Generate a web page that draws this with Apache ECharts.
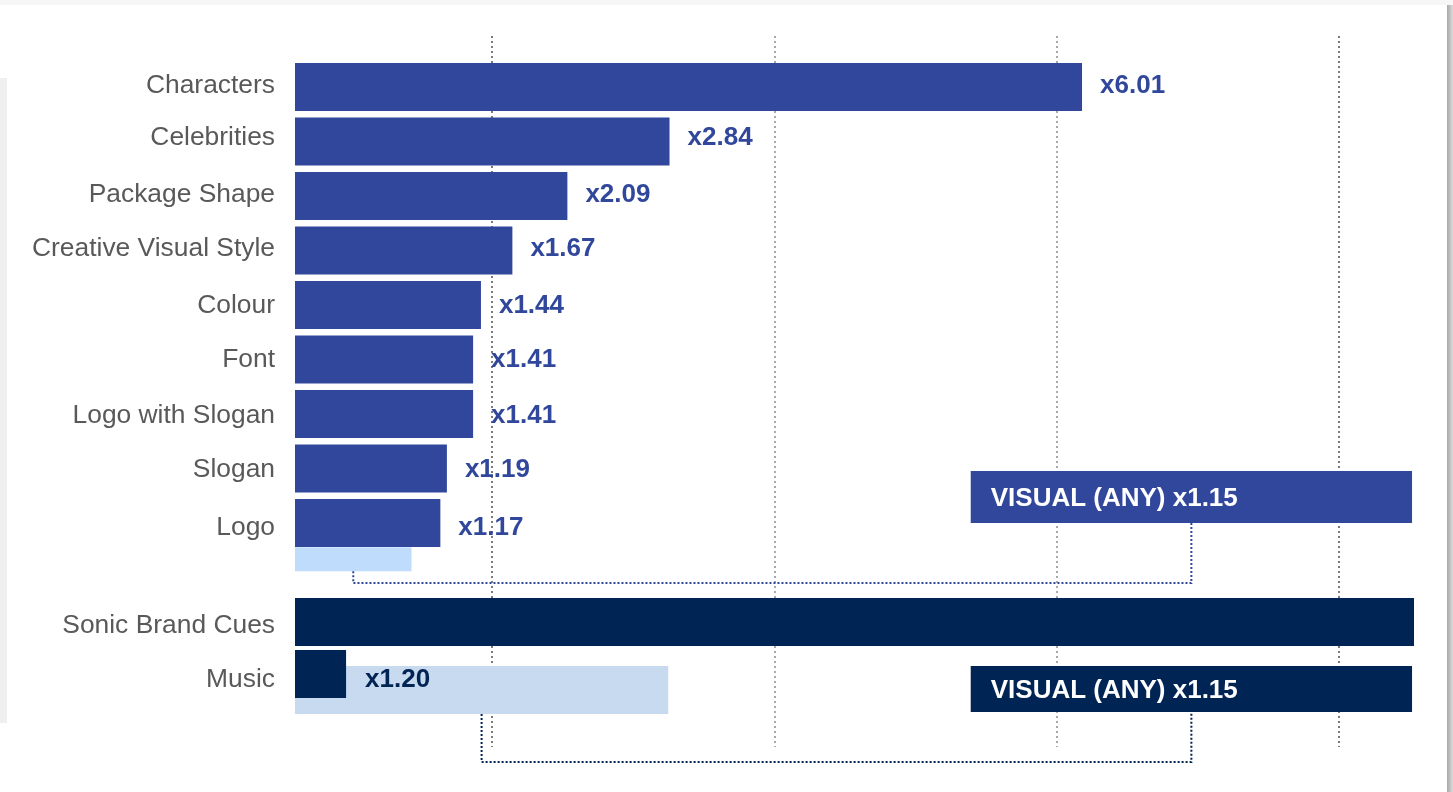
<!DOCTYPE html>
<html><head><meta charset="utf-8">
<script src="https://cdn.jsdelivr.net/npm/echarts/dist/echarts.min.js"></script>
<style>html,body{margin:0;padding:0;background:#fff;overflow:hidden}#chart{width:1453px;height:792px}</style>
</head><body><div id="chart"></div>
<script>
// ---- data ----
const visualCategories = ['Characters','Celebrities','Package Shape','Creative Visual Style','Colour','Font','Logo with Slogan','Slogan','Logo'];
const visualValues = [6.01, 2.86, 2.08, 1.66, 1.42, 1.36, 1.36, 1.16, 1.11];
const visualLabels = ['x6.01','x2.84','x2.09','x1.67','x1.44','x1.41','x1.41','x1.19','x1.17'];
const visualBaseValue = 0.89;          // light bar under "Logo"
const sonicCategories = ['Sonic Brand Cues','Music'];
const sonicValues = [8.545, 0.39];
const sonicLabels = ['', 'x1.20'];
const sonicBaseValue = 2.85;           // light bar under "Music"
const annotationTexts = ['VISUAL (ANY) x1.15', 'VISUAL (ANY) x1.15'];
const annotationRange = [5.16, 8.53];
const gridTicks = [1, 2, 3, 4];

// ---- styles ----
const BLUE = '#31479b', NAVY = '#002453', LIGHT1 = '#c0dcfd', LIGHT2 = '#c8daf0';
const FONT = "'Liberation Sans', Arial, sans-serif";
const XMAX = 8.545;
// small vertical text nudges (px, + = down) to follow the original hand-placed labels
const visualNudge = [-1, -4, -1, -2, 1, 0, 2, 1, 5];
const sonicNudge = [4, 6];

const chart = echarts.init(document.getElementById('chart'), null, {renderer: 'canvas'});

function offsetBar(offTop, h) {
  return function (params, api) {
    const c0 = api.coord([0, api.value(1)]);
    const c1 = api.coord([api.value(0), api.value(1)]);
    return {type: 'rect', shape: {x: c0[0], y: c0[1] + offTop, width: c1[0] - c0[0], height: h},
            style: {fill: api.visual('color')}};
  };
}

function nudgeRich(nudges) {
  const rich = {};
  nudges.forEach((d, i) => {
    rich['n' + i] = {fontSize: 26.4, color: '#595959', fontFamily: FONT,
                     padding: [d > 0 ? 2 * d : 0, 0, d < 0 ? -2 * d : 0, 0]};
  });
  return rich;
}

const catAxis = (data, gi, nudges) => ({
  type: 'category', gridIndex: gi, data: data, inverse: true,
  axisLine: {show: false}, axisTick: {show: false}, splitLine: {show: false},
  axisLabel: {fontSize: 26.4, color: '#595959', fontFamily: FONT, margin: 20,
              formatter: (v, i) => '{n' + i + '|' + v + '}', rich: nudgeRich(nudges)}
});
const valAxis = (gi) => ({
  type: 'value', gridIndex: gi, min: 0, max: XMAX, show: false, splitLine: {show: false}
});

const labelled = (values, nudges) => values.map((v, i) => ({value: v, label: {offset: [0, nudges[i]]}}));

chart.setOption({
  animation: false,
  backgroundColor: '#ffffff',
  grid: [
    {left: 295, width: 1119, top: 59.75, height: 490.5},
    {left: 295, width: 1119, top: 595.9, height: 104},
    {left: 492, width: 847, top: 36, height: 711}
  ],
  xAxis: [
    valAxis(0), valAxis(1),
    {type: 'value', gridIndex: 2, min: gridTicks[0], max: gridTicks[gridTicks.length - 1], interval: 1,
     axisLine: {show: false}, axisTick: {show: false}, axisLabel: {show: false},
     splitLine: {show: true, lineStyle: {color: ['#7a7a7a', '#a8a8a8', '#a8a8a8', '#7a7a7a'], width: 2, type: [2, 3]}}}
  ],
  yAxis: [
    catAxis(visualCategories, 0, visualNudge), catAxis(sonicCategories, 1, sonicNudge),
    {type: 'value', gridIndex: 2, show: false, splitLine: {show: false}}
  ],
  series: [
    {type: 'bar', xAxisIndex: 0, yAxisIndex: 0, data: labelled(visualValues, visualNudge), barWidth: 48, z: 3,
     itemStyle: {color: BLUE},
     label: {show: true, position: 'right', distance: 18, fontSize: 26, fontWeight: 'bold', fontFamily: FONT,
             color: BLUE, formatter: p => visualLabels[p.dataIndex]}},
    {type: 'custom', xAxisIndex: 0, yAxisIndex: 0, z: 2, itemStyle: {color: LIGHT1},
     encode: {x: 0, y: 1}, data: [[visualBaseValue, visualCategories.length - 1]],
     renderItem: offsetBar(24.2, 24)},
    {type: 'bar', xAxisIndex: 1, yAxisIndex: 1, data: labelled(sonicValues, sonicNudge), barWidth: 48, z: 3,
     itemStyle: {color: NAVY},
     label: {show: true, position: 'right', distance: 19, fontSize: 26, fontWeight: 'bold', fontFamily: FONT,
             color: NAVY, formatter: p => sonicLabels[p.dataIndex]}},
    {type: 'custom', xAxisIndex: 1, yAxisIndex: 1, z: 2, itemStyle: {color: LIGHT2},
     encode: {x: 0, y: 1}, data: [[sonicBaseValue, sonicCategories.length - 1]],
     renderItem: offsetBar(-8, 48)}
  ]
});

// ---- annotations anchored to the axes ----
const px = (gi, v, c) => chart.convertToPixel({xAxisIndex: gi, yAxisIndex: gi}, [v, c]);
const logoC = px(0, 0, visualCategories.length - 1);
const musicC = px(1, 0, sonicCategories.length - 1);
const bx0 = px(0, annotationRange[0], 0)[0], bx1 = px(0, annotationRange[1], 0)[0];
const bmid = (bx0 + bx1) / 2;
const lightLogoMid = px(0, visualBaseValue / 2, 0)[0];
const lightMusicMid = px(1, sonicBaseValue / 2, 0)[0];
const logoY = logoC[1], musicY = musicC[1];

const dotted = (pts, color) => ({type: 'polyline', z: 5,
  shape: {points: pts}, style: {stroke: color, lineWidth: 2, lineDash: [2, 2], fill: null}});
const box = (y, h, color, text) => ({type: 'group', z: 10, children: [
  {type: 'rect', shape: {x: bx0, y: y, width: bx1 - bx0, height: h}, style: {fill: color}, z: 10},
  {type: 'text', x: bx0 + 20, y: y + h / 2 + 1.5, z: 11,
   style: {text: text, fill: '#fff', font: "bold 26px " + FONT, textVerticalAlign: 'middle', verticalAlign: 'middle'}}
]});

chart.setOption({graphic: [
  {type: 'rect', z: -1, shape: {x: 0, y: 0, width: 1453, height: 5}, style: {fill: '#f6f6f6'}},
  {type: 'rect', z: -1, shape: {x: 0, y: 78, width: 7, height: 645}, style: {fill: '#efefef'}},
  {type: 'rect', z: -1, shape: {x: 1447, y: 5, width: 6, height: 787},
   style: {fill: new echarts.graphic.LinearGradient(0, 0, 1, 0, [{offset: 0, color: '#a8a8a8'}, {offset: 1, color: '#dcdcdc'}])}},
  dotted([[lightLogoMid, logoY + 48.2], [lightLogoMid, logoY + 60], [bmid, logoY + 60], [bmid, logoY]], BLUE),
  dotted([[lightMusicMid, musicY + 40], [lightMusicMid, musicY + 88], [bmid, musicY + 88], [bmid, musicY + 38]], NAVY),
  box(logoY - 52, 52, BLUE, annotationTexts[0]),
  box(musicY - 8, 46, NAVY, annotationTexts[1])
]});
</script></body></html>
